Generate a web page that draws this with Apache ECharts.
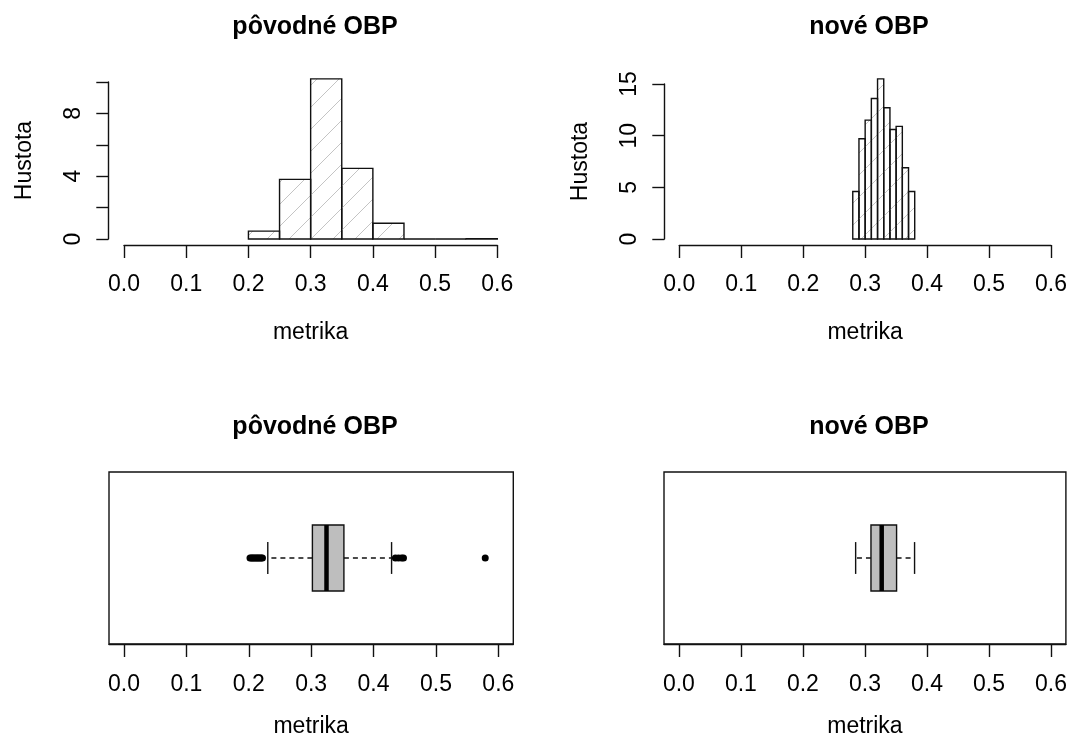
<!DOCTYPE html>
<html><head><meta charset="utf-8">
<script src="https://cdn.jsdelivr.net/npm/echarts@6/dist/echarts.min.js"></script>
<style>html,body{margin:0;padding:0;background:#fff}#c{width:1070px;height:740px}</style>
</head><body><div id="c"></div><script>
// ---- data ----
const xTicks = [0, 0.1, 0.2, 0.3, 0.4, 0.5, 0.6];
const origBreaks = [0.2, 0.25, 0.3, 0.35, 0.4, 0.45, 0.5, 0.55, 0.6];
const origDensity = [0.5, 3.8, 10.2, 4.5, 1.0, 0, 0, 0.02];
const newBreaks = [0.28, 0.29, 0.30, 0.31, 0.32, 0.33, 0.34, 0.35, 0.36, 0.37, 0.38];
const newDensity = [4.6, 9.7, 11.5, 13.6, 15.5, 12.7, 10.6, 10.9, 6.9, 4.6];
// boxplot stats: [lower whisker, Q1, median, Q3, upper whisker]
const origBox = [0.2305, 0.302, 0.3246, 0.3525, 0.4289];
const origOutliers = [0.202, 0.204, 0.206, 0.208, 0.210, 0.212, 0.214, 0.216, 0.218, 0.220, 0.222, 0.435, 0.440, 0.445, 0.448, 0.579];
const newBox = [0.285, 0.3097, 0.327, 0.351, 0.380];
const newOutliers = [];
const titles = ['pôvodné OBP', 'nové OBP', 'pôvodné OBP', 'nové OBP'];
const xName = 'metrika';
const yName = 'Hustota';

// ---- helpers ----
const FONT = '"Liberation Sans", Arial, sans-serif';
function hatch(size, color, lw) {
  const c = document.createElement('canvas');
  c.width = size; c.height = size;
  const g = c.getContext('2d');
  g.strokeStyle = color; g.lineWidth = lw;
  g.beginPath();
  g.moveTo(-1, size + 1); g.lineTo(size + 1, -1);
  g.moveTo(-1, 1); g.lineTo(1, -1);
  g.moveTo(size - 1, size + 1); g.lineTo(size + 1, size - 1);
  g.stroke();
  return c;
}
const hatchOrig = hatch(22, '#c4c4c4', 1);
const hatchNew = hatch(22, '#bdbdbd', 0.9);

function histItems(br, d) {
  const out = [];
  for (let i = 0; i < d.length; i++) out.push([br[i], br[i + 1], d[i]]);
  return out;
}
function histRender(pat) {
  return function (params, api) {
    const p0 = api.coord([api.value(0), api.value(2)]);
    const p1 = api.coord([api.value(1), 0]);
    return {
      type: 'rect',
      shape: { x: p0[0], y: p0[1], width: p1[0] - p0[0], height: p1[1] - p0[1] },
      style: { fill: { image: pat, repeat: 'repeat' }, stroke: '#111', lineWidth: 1.4 }
    };
  };
}
function boxRender(params, api) {
  const lo = api.value(0), q1 = api.value(1), md = api.value(2), q3 = api.value(3), hi = api.value(4);
  const yc = 1, h = 0.207, hc = 0.1;
  const c = (x, y) => api.coord([x, y]);
  const a = c(lo, yc), b = c(q1, yc), e = c(q3, yc), f = c(hi, yc);
  const bt = c(q1, yc + h), bb = c(q3, yc - h);
  const m1 = c(md, yc + h), m2 = c(md, yc - h);
  const cl1 = c(lo, yc + hc), cl2 = c(lo, yc - hc);
  const ch1 = c(hi, yc + hc), ch2 = c(hi, yc - hc);
  const dash = { stroke: '#111', lineWidth: 1.3, lineDash: [5, 4] };
  const solid = { stroke: '#111', lineWidth: 1.4 };
  return {
    type: 'group', children: [
      { type: 'line', shape: { x1: b[0], y1: b[1], x2: a[0], y2: a[1] }, style: dash },
      { type: 'line', shape: { x1: e[0], y1: e[1], x2: f[0], y2: f[1] }, style: dash },
      { type: 'line', shape: { x1: cl1[0], y1: cl1[1], x2: cl2[0], y2: cl2[1] }, style: solid },
      { type: 'line', shape: { x1: ch1[0], y1: ch1[1], x2: ch2[0], y2: ch2[1] }, style: solid },
      { type: 'rect', shape: { x: bt[0], y: bt[1], width: bb[0] - bt[0], height: bb[1] - bt[1] },
        style: { fill: '#bebebe', stroke: '#111', lineWidth: 1.4 } },
      { type: 'line', shape: { x1: m1[0], y1: m1[1], x2: m2[0], y2: m2[1] }, style: { stroke: '#000', lineWidth: 4.5 } }
    ]
  };
}

const axisLineStyle = { show: true, onZero: false, lineStyle: { color: '#111', width: 1.4 } };
const tickStyle = { show: true, length: 13, lineStyle: { color: '#111', width: 1.4 } };
const labelText = { color: '#000', fontFamily: FONT, fontSize: 23 };
const nameText = { color: '#000', fontFamily: FONT, fontSize: 23 };

function histX(gi) {
  return {
    type: 'value', gridIndex: gi, min: 0, max: 0.6, interval: 0.1, offset: 6,
    axisLine: axisLineStyle, axisTick: tickStyle, splitLine: { show: false },
    axisLabel: Object.assign({ margin: 28, formatter: v => v.toFixed(1) }, labelText),
    name: xName, nameLocation: 'middle', nameGap: 76, nameTextStyle: nameText
  };
}
function histY(gi, max, interval, step, off) {
  return {
    type: 'value', gridIndex: gi, min: 0, max: max, interval: interval, offset: off,
    axisLine: axisLineStyle, axisTick: Object.assign({}, tickStyle, { length: 12 }), splitLine: { show: false },
    axisLabel: Object.assign({ margin: 23, rotate: 90, formatter: v => (v % step === 0 ? String(v) : '') }, labelText),
    name: yName, nameLocation: 'middle', nameGap: 72, nameTextStyle: nameText
  };
}
function boxX(gi) {
  return {
    type: 'value', gridIndex: gi, min: -0.024, max: 0.624,
    axisLine: axisLineStyle, splitLine: { show: false },
    axisTick: Object.assign({ customValues: xTicks }, tickStyle),
    axisLabel: Object.assign({ customValues: xTicks, margin: 29, formatter: v => v.toFixed(1) }, labelText),
    name: xName, nameLocation: 'middle', nameGap: 71, nameTextStyle: nameText
  };
}
function boxY(gi) {
  return { type: 'value', gridIndex: gi, min: 0.46, max: 1.54, show: false };
}

const option = {
  animation: false,
  backgroundColor: '#fff',
  title: [
    { text: titles[0], left: 310, top: 10, textAlign: 'center' },
    { text: titles[1], left: 864, top: 10, textAlign: 'center' },
    { text: titles[2], left: 310, top: 410, textAlign: 'center' },
    { text: titles[3], left: 864, top: 410, textAlign: 'center' }
  ].map(t => Object.assign(t, { textStyle: { fontFamily: FONT, fontSize: 25, fontWeight: 'bold', color: '#000' } })),
  grid: [
    { left: 124, width: 373.3, top: 82, height: 157 },
    { left: 679.3, width: 373.4, top: 84, height: 155 },
    { left: 109, width: 404.3, top: 472, height: 172, show: true, borderColor: '#111', borderWidth: 1.4, backgroundColor: 'transparent' },
    { left: 664, width: 404.3, top: 472, height: 172, show: true, borderColor: '#111', borderWidth: 1.4, backgroundColor: 'transparent' }
  ],
  xAxis: [histX(0), histX(1), boxX(2), boxX(3)],
  yAxis: [histY(0, 10, 2, 4, 15.7), histY(1, 15, 5, 5, 15), boxY(2), boxY(3)],
  series: [
    { type: 'custom', xAxisIndex: 0, yAxisIndex: 0, clip: false, renderItem: histRender(hatchOrig),
      encode: { x: [0, 1], y: 2 }, data: histItems(origBreaks, origDensity) },
    { type: 'custom', xAxisIndex: 1, yAxisIndex: 1, clip: false, renderItem: histRender(hatchNew),
      encode: { x: [0, 1], y: 2 }, data: histItems(newBreaks, newDensity) },
    { type: 'custom', xAxisIndex: 2, yAxisIndex: 2, renderItem: boxRender,
      encode: { x: [0, 1, 2, 3, 4] }, data: [origBox] },
    { type: 'custom', xAxisIndex: 3, yAxisIndex: 3, renderItem: boxRender,
      encode: { x: [0, 1, 2, 3, 4] }, data: [newBox] },
    { type: 'scatter', xAxisIndex: 2, yAxisIndex: 2, symbol: 'circle', symbolSize: 7,
      itemStyle: { color: '#000', opacity: 1 }, data: origOutliers.map(v => [v, 1]) },
    { type: 'scatter', xAxisIndex: 3, yAxisIndex: 3, symbol: 'circle', symbolSize: 7,
      itemStyle: { color: '#000', opacity: 1 }, data: newOutliers.map(v => [v, 1]) }
  ]
};
echarts.init(document.getElementById('c'), null, { renderer: 'canvas' }).setOption(option);
</script></body></html>
